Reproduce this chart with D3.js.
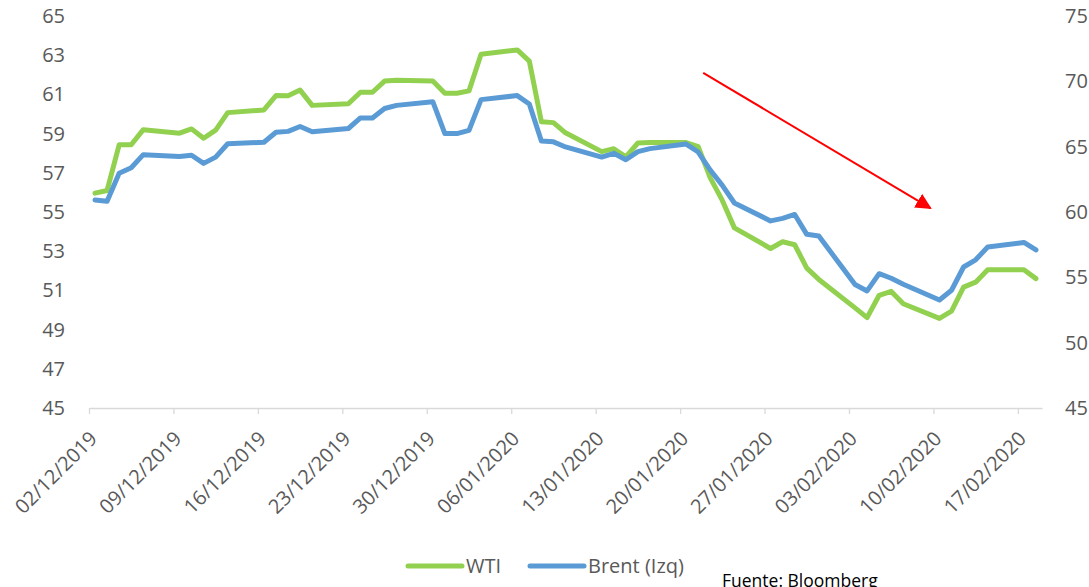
<html>

<head>
    <style>
        body { margin: 0; background: white; }
        text { font-family: "Open Sans", sans-serif; }
        .line { fill: none; stroke-width: 5; stroke-linejoin: round; stroke-linecap: round; }
    </style>
</head>

<body>
    <svg id="container" height="587" width="1089"></svg>
</body>
<script src="https://cdn.jsdelivr.net/npm/d3@7"></script>
<script>
    // business days, holidays carry the previous close
    const dates = [
        "2019-12-02", "2019-12-03", "2019-12-04", "2019-12-05", "2019-12-06",
        "2019-12-09", "2019-12-10", "2019-12-11", "2019-12-12", "2019-12-13",
        "2019-12-16", "2019-12-17", "2019-12-18", "2019-12-19", "2019-12-20",
        "2019-12-23", "2019-12-24", "2019-12-25", "2019-12-26", "2019-12-27",
        "2019-12-30", "2019-12-31", "2020-01-01", "2020-01-02", "2020-01-03",
        "2020-01-06", "2020-01-07", "2020-01-08", "2020-01-09", "2020-01-10",
        "2020-01-13", "2020-01-14", "2020-01-15", "2020-01-16", "2020-01-17",
        "2020-01-20", "2020-01-21", "2020-01-22", "2020-01-23", "2020-01-24",
        "2020-01-27", "2020-01-28", "2020-01-29", "2020-01-30", "2020-01-31",
        "2020-02-03", "2020-02-04", "2020-02-05", "2020-02-06", "2020-02-07",
        "2020-02-10", "2020-02-11", "2020-02-12", "2020-02-13", "2020-02-14",
        "2020-02-17", "2020-02-18"
    ]
    const wti = [
        55.96, 56.10, 58.43, 58.43, 59.20,
        59.02, 59.24, 58.76, 59.18, 60.07,
        60.21, 60.94, 60.93, 61.22, 60.44,
        60.52, 61.11, 61.11, 61.68, 61.72,
        61.68, 61.06, 61.06, 61.18, 63.05,
        63.27, 62.70, 59.61, 59.56, 59.04,
        58.08, 58.23, 57.81, 58.52, 58.54,
        58.54, 58.34, 56.74, 55.59, 54.19,
        53.14, 53.48, 53.33, 52.14, 51.56,
        50.11, 49.61, 50.75, 50.95, 50.32,
        49.57, 49.94, 51.17, 51.42, 52.05,
        52.05, 51.60
    ]
    const brent = [
        60.92, 60.82, 62.96, 63.39, 64.39,
        64.25, 64.34, 63.72, 64.20, 65.22,
        65.34, 66.10, 66.17, 66.54, 66.14,
        66.39, 67.20, 67.20, 67.92, 68.16,
        68.44, 66.00, 66.00, 66.25, 68.60,
        68.91, 68.27, 65.44, 65.37, 64.98,
        64.20, 64.49, 64.00, 64.62, 64.85,
        65.20, 64.59, 63.21, 62.04, 60.69,
        59.32, 59.51, 59.81, 58.29, 58.16,
        54.45, 53.96, 55.28, 54.93, 54.47,
        53.27, 54.01, 55.79, 56.34, 57.32,
        57.67, 57.10
    ]
    const xTicks = ["2019-12-02", "2019-12-09", "2019-12-16", "2019-12-23", "2019-12-30", "2020-01-06",
        "2020-01-13", "2020-01-20", "2020-01-27", "2020-02-03", "2020-02-10", "2020-02-17"]
    const leftTicks = [45, 47, 49, 51, 53, 55, 57, 59, 61, 63, 65]
    const rightTicks = [45, 50, 55, 60, 65, 70, 75]
    const seriesNames = ["WTI", "Brent (Izq)"]
    const seriesColors = ["#92D050", "#5B9BD5"]
    // trend arrow, in data units (date, left-axis value)
    const arrowFrom = ["2020-01-21T22:00", 62.1]
    const arrowTo = ["2020-02-09T18:00", 55.2]

    const parse = d3.isoParse
    let svg = d3.select("#container")

    let x = d3.scaleTime()
        .domain([parse("2019-12-02T00:00"), parse("2020-02-19T00:00")])
        .range([89, 1042])
    let yL = d3.scaleLinear().domain([45, 65]).range([408, 16])
    let yR = d3.scaleLinear().domain([45, 75]).range([408, 16])

    // points sit in the middle of their day
    let xPos = d => x(d3.timeHour.offset(parse(d + "T00:00"), 12))

    // x axis
    let xAxis = svg.append("g")
        .attr("transform", "translate(0,408)")
        .call(d3.axisBottom(x)
            .tickValues(xTicks.map(d => parse(d + "T00:00")))
            .tickFormat(d3.timeFormat("%d/%m/%Y"))
            .tickSize(6)
            .tickSizeOuter(0))
    xAxis.select(".domain").attr("stroke", "#d9d9d9").attr("stroke-width", 1.3)
    xAxis.selectAll(".tick line").attr("stroke", "#d9d9d9").attr("stroke-width", 1.3)
    xAxis.selectAll(".tick text")
        .attr("fill", "#595959")
        .style("font-size", "20px")
        .attr("text-anchor", "end")
        .attr("transform", "translate(4,27) rotate(-45)")
        .attr("y", 0)
        .attr("dy", "0.35em")

    // left axis
    let leftAxis = svg.append("g")
        .attr("transform", "translate(89,0)")
        .call(d3.axisLeft(yL).tickValues(leftTicks).tickSize(0).tickPadding(24))
    leftAxis.select(".domain").remove()
    leftAxis.selectAll("text").attr("fill", "#595959").style("font-size", "20px")

    // right axis
    let rightAxis = svg.append("g")
        .attr("transform", "translate(1042,0)")
        .call(d3.axisRight(yR).tickValues(rightTicks).tickSize(0).tickPadding(23))
    rightAxis.select(".domain").remove()
    rightAxis.selectAll("text").attr("fill", "#595959").style("font-size", "20px")

    // lines
    let wtiLine = d3.line().x((d, i) => xPos(dates[i])).y(d => yL(d))
    let brentLine = d3.line().x((d, i) => xPos(dates[i])).y(d => yR(d))

    svg.append("path").datum(wti)
        .attr("class", "line")
        .attr("stroke", seriesColors[0])
        .attr("d", wtiLine)
    svg.append("path").datum(brent)
        .attr("class", "line")
        .attr("stroke", seriesColors[1])
        .attr("d", brentLine)

    // arrow
    svg.append("defs").append("marker")
        .attr("id", "head")
        .attr("viewBox", "0 0 10 10")
        .attr("refX", 9).attr("refY", 5)
        .attr("markerWidth", 8).attr("markerHeight", 8)
        .attr("markerUnits", "strokeWidth")
        .attr("orient", "auto")
        .append("path")
        .attr("d", "M0,0 L10,5 L0,10 Z")
        .attr("fill", "#ff0000")
    svg.append("line")
        .attr("x1", x(parse(arrowFrom[0]))).attr("y1", yL(arrowFrom[1]))
        .attr("x2", x(parse(arrowTo[0]))).attr("y2", yL(arrowTo[1]))
        .attr("stroke", "#ff0000")
        .attr("stroke-width", 2)
        .attr("marker-end", "url(#head)")

    // legend
    let legendX = [408, 530]
    let legend = svg.append("g")
    seriesNames.forEach((name, i) => {
        legend.append("line")
            .attr("x1", legendX[i]).attr("x2", legendX[i] + 54)
            .attr("y1", 566).attr("y2", 566)
            .attr("stroke", seriesColors[i])
            .attr("stroke-width", 5)
            .attr("stroke-linecap", "round")
        legend.append("text")
            .attr("x", legendX[i] + 58).attr("y", 573)
            .attr("fill", "#595959")
            .style("font-size", "20px")
            .text(name)
    })

    svg.append("text")
        .attr("x", 722).attr("y", 587)
        .attr("fill", "#000")
        .style("font-size", "17.5px")
        .text("Fuente: Bloomberg")
</script>

</html>
